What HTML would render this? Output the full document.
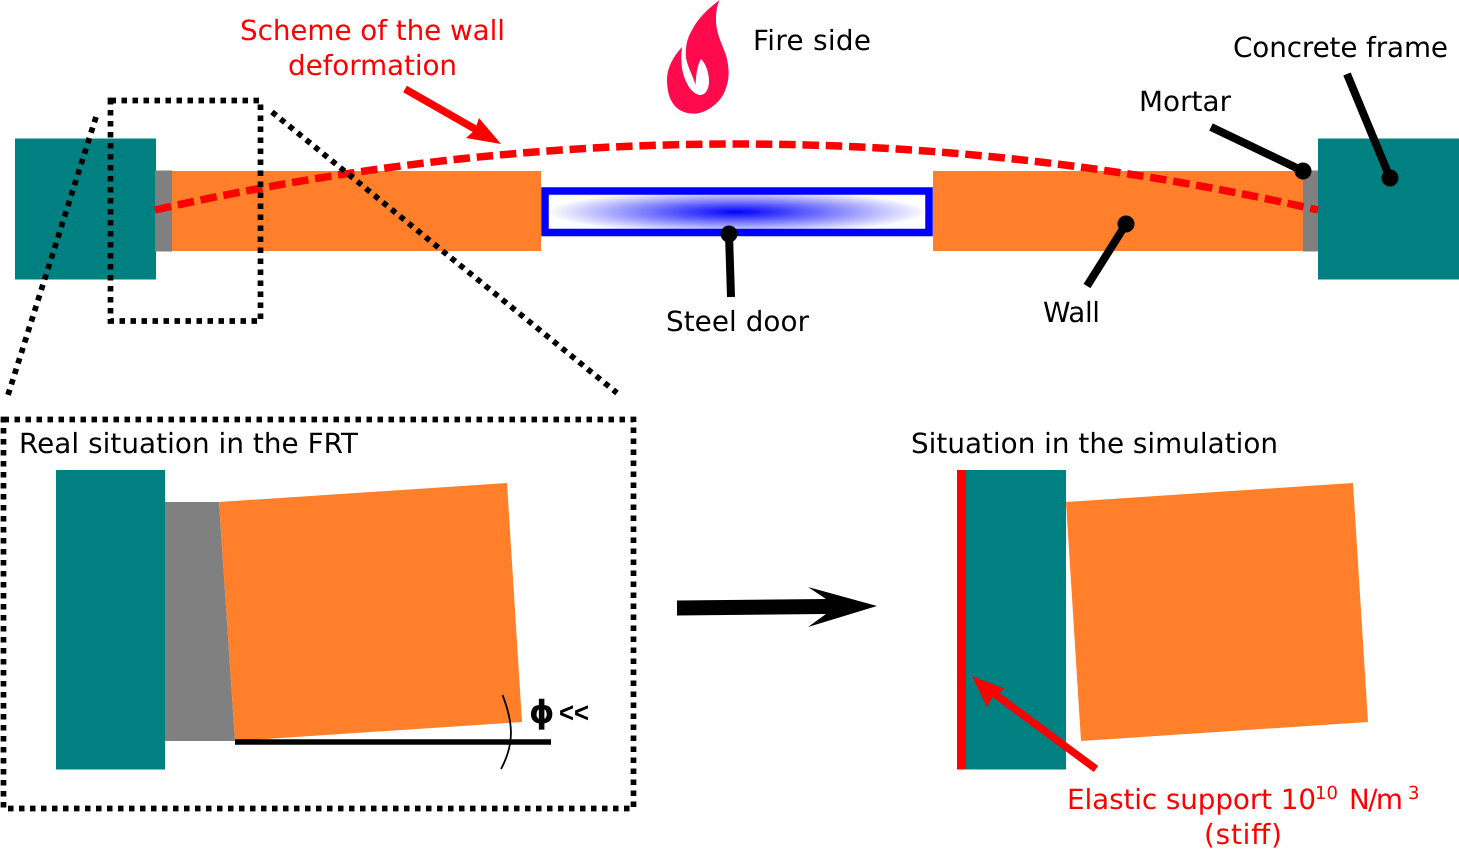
<!DOCTYPE html>
<html><head><meta charset="utf-8"><style>
html,body{margin:0;padding:0;background:#fff}
svg{display:block}
text{font-family:"DejaVu Sans",sans-serif;font-size:27.8px;fill:#000;text-rendering:geometricPrecision}
.r{fill:#f00}
</style></head><body>
<svg width="1459" height="849" viewBox="0 0 1459 849" xmlns="http://www.w3.org/2000/svg">
<defs>
<radialGradient id="g" gradientUnits="userSpaceOnUse" cx="0" cy="0" r="1" gradientTransform="translate(737 212) scale(190 22)">
<stop offset="0" stop-color="#00f"/><stop offset="1" stop-color="#00f" stop-opacity="0"/>
</radialGradient>
</defs>
<!-- top wall -->
<rect x="15" y="138.500" width="141" height="141" fill="#008080"/>
<rect x="155" y="170.500" width="17" height="81" fill="#808080"/>
<rect x="172" y="171" width="369" height="80" fill="#ff7f2a"/>
<rect x="933" y="171" width="370" height="80" fill="#ff7f2a"/>
<rect x="1303" y="170.500" width="15" height="81" fill="#808080"/>
<rect x="1318" y="138.500" width="141" height="141" fill="#008080"/>
<rect x="545" y="191" width="384" height="41.500" fill="url(#g)" stroke="#00f" stroke-width="7.500"/>
<!-- red deformation -->
<path d="M155 210 Q737 78 1318 210" fill="none" stroke="#f00" stroke-width="7.500" stroke-dasharray="16.500 6.800"/>
<!-- dotted zoom -->
<rect x="110.500" y="100.500" width="150" height="220.500" fill="none" stroke="#000" stroke-width="5.700" stroke-dasharray="5.500 5.500"/>
<path d="M96 117 L8 395" fill="none" stroke="#000" stroke-width="5.700" stroke-dasharray="5.500 5.500"/>
<path d="M272 112 L617 393" fill="none" stroke="#000" stroke-width="5.700" stroke-dasharray="5.500 5.500"/>
<rect x="3.500" y="419.500" width="630" height="389" fill="none" stroke="#000" stroke-width="5.700" stroke-dasharray="5.500 5.500"/>
<!-- flame -->
<path fill="#ff0a4d" d="M719.500 0 C708 9 698 18 692 30 C687 38 685 48 686 58 C688 68 693 76 695.500 85 C696 76 697 66 701 59 C706 64 709 73 709 81 C709 90 705 95 700 95 C692 94 686 84 683 73 C681 65 681 55 682 47 C674 56 667 67 667 80 C667 92 670 102 677 108 C683 113 690 114 697 113.500 C710 111 722 101 726 88 C730 78 729 66 726 55 C722 44 716 33 716 20 C716 12 717 6 719.500 0 Z"/>
<!-- leaders -->
<g stroke="#000" stroke-width="8" fill="none">
<path d="M729 234 L731 297"/>
<path d="M1126 224 L1087 286"/>
<path d="M1303 171 L1211 127"/>
<path d="M1390 178 L1347 74"/>
</g>
<g fill="#000">
<circle cx="729" cy="234" r="8.500"/>
<circle cx="1126" cy="224" r="8.500"/>
<circle cx="1303" cy="171" r="8.500"/>
<circle cx="1390" cy="178" r="8.500"/>
</g>
<!-- red arrow top -->
<path d="M405 89 L482 133" stroke="#f00" stroke-width="7.500" fill="none"/>
<path d="M501 144 L466 138 L475 130 L479 118 Z" fill="#f00"/>
<!-- bottom left -->
<rect x="56" y="470" width="109" height="299.500" fill="#008080"/>
<path d="M165 502 L219 502 L235 741 L165 741 Z" fill="#808080"/>
<path d="M219 502 L507 483 L522 722 L235 741 Z" fill="#ff7f2a"/>
<path d="M235 742 L551 742" stroke="#000" stroke-width="5.500" fill="none"/>
<path d="M502.500 695 C513 722 515 743 501 769" stroke="#000" stroke-width="1.800" fill="none"/>
<!-- big arrow -->
<path d="M677 600.500 L826 599 L808 587 L877 606 L808 627 L826 614 L677 615.500 Z" fill="#000"/>
<!-- bottom right -->
<rect x="965" y="470" width="101" height="299.500" fill="#008080"/>
<rect x="957" y="470" width="9" height="299.500" fill="#f00"/>
<path d="M1066 502 L1353 483 L1368 722 L1081 741 Z" fill="#ff7f2a"/>
<path d="M1096 769 L988 689" stroke="#f00" stroke-width="7.500" fill="none"/>
<path d="M972 676 L1005 689 L994 695 L987 707 Z" fill="#f00"/>
<!-- text -->
<text class="r" x="240" y="40" textLength="265">Scheme of the wall</text>
<text class="r" x="288" y="75" textLength="169">deformation</text>
<text x="753" y="50" textLength="118">Fire side</text>
<text x="1233" y="57" textLength="215">Concrete frame</text>
<text x="1139" y="111" textLength="92">Mortar</text>
<text x="666" y="331" textLength="143">Steel door</text>
<text x="1043" y="322" textLength="57">Wall</text>
<text x="19" y="453" textLength="339">Real situation in the FRT</text>
<text x="911" y="453" textLength="367">Situation in the simulation</text>
<text x="529" y="723" style="font-weight:bold;font-size:32px">ϕ</text>
<text x="559" y="722" textLength="30" lengthAdjust="spacingAndGlyphs" style="font-weight:bold;font-family:'Liberation Sans',sans-serif;font-size:28px">&lt;&lt;</text>
<text class="r" x="1067" y="809" textLength="249">Elastic support 10</text>
<text class="r" x="1315" y="799" style="font-size:18px" textLength="23">10</text>
<text class="r" x="1349" y="809" textLength="54">N/m</text>
<text class="r" x="1408" y="799" style="font-size:18px">3</text>
<text class="r" x="1204" y="844" textLength="78">(stiff)</text>
</svg>
</body></html>
